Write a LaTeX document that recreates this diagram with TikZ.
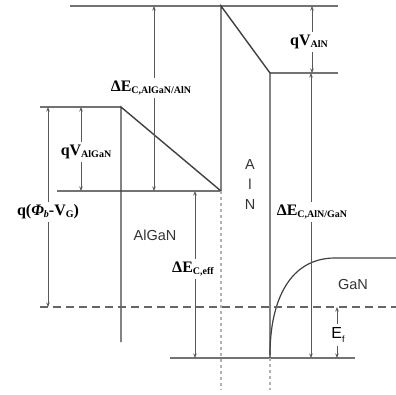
\documentclass[tikz,border=0pt]{standalone}
\usepackage{fontspec}
\setmainfont{Liberation Serif}
\setsansfont{Liberation Sans}
\usetikzlibrary{arrows.meta}

% band label: big bold symbol with small bold subscript
\newcommand{\bandlbl}[2]{{\fontsize{16}{16}\selectfont\bfseries #1}{\fontsize{10}{10}\selectfont\bfseries\raisebox{-0.4ex}{#2}}}

\tikzset{
	level/.style={draw=black!55, line width=1.3pt},
	band/.style={draw=black!75, line width=1.4pt},
	fermi/.style={draw=black!60, line width=1.3pt, dash pattern=on 8pt off 5pt},
	guide/.style={draw=black!30, line width=1.1pt, dash pattern=on 3pt off 3pt},
	arr/.style={draw=black!65, line width=0.7pt, ->},
	lbl/.style={inner sep=3pt, font=\fontsize{16}{16}\selectfont\bfseries},
	mat/.style={font=\fontsize{14.5}{15}\selectfont\sffamily, text=black!80}
}

\begin{document}
\begin{tikzpicture}[x=1pt, y=-1pt, >={Stealth[length=4.5pt,width=3.5pt]}]
			\useasboundingbox (0,0) rectangle (396,394);
			
			% levels
			\draw[level] (70,6) -- (338,6);
			\draw[level] (40,107) -- (121,107);
			\draw[level] (57,191) -- (221,191);
			\draw[level] (270,73) -- (338,73);
			\draw[level] (170,358) -- (355,358);
			
			% AlGaN barrier
			{
				\draw[band] (121,342) -- (121,107) -- (221,191);
			}
			
			% AlN spacer
			{
				\draw[band] (221,191) -- (221,6) -- (270,73) -- (270,358);
			}
			
			% GaN channel
			\draw[band, line width=1.2pt] (270,355) .. controls (270,300) and (290,258) .. (335,258) -- (396,258);
			
			% Fermi level and interface guides
			\draw[fermi] (40,307) -- (396,307);
			\draw[guide] (221,191) -- (221,390);
			\draw[guide] (270,358) -- (270,390);
			
			% end points of the arrows
			\coordinate (dEabTop) at (154,6);
			\coordinate (dEabBot) at (154,191);
			\coordinate (qVaTop) at (81,107);
			\coordinate (qVaBot) at (81,191);
			\coordinate (phiTop) at (48,107);
			\coordinate (phiBot) at (48,307);
			\coordinate (effTop) at (195,191);
			\coordinate (effBot) at (195,358);
			\coordinate (qVnTop) at (312,6);
			\coordinate (qVnBot) at (312,73);
			\coordinate (dEngTop) at (311,73);
			\coordinate (dEngBot) at (311,358);
			\coordinate (efTop) at (337,307);
			\coordinate (efBot) at (337,358);
			
			% labels
			\node[lbl] (dEab) at (151,88) {\bandlbl{ΔE}{C,AlGaN/AlN}};
			\node[lbl] (qVa) at (86,152) {\bandlbl{qV}{AlGaN}};
			\node[lbl] (phi) at (48,212) {q(\textit{Φ}{\fontsize{10}{10}\selectfont\raisebox{-0.4ex}{\textit{b}}}-V{\fontsize{10}{10}\selectfont\raisebox{-0.4ex}{G}})};
			\node[lbl] (eff) at (193,269) {\bandlbl{ΔE}{C,eff}};
			\node[lbl] (qVn) at (309,42) {\bandlbl{qV}{AlN}};
			\node[lbl] (dEng) at (312,212) {\bandlbl{ΔE}{C,AlN/GaN}};
			\node[inner sep=3pt, font=\fontsize{16}{16}\selectfont\sffamily] (ef) at (338,335) {E\raisebox{-0.5ex}{\fontsize{9}{9}\selectfont f}};
			
			% arrows
			\draw[arr] (dEab.north -| dEabTop) -- (dEabTop);
			\draw[arr] (dEab.south -| dEabBot) -- (dEabBot);
			\draw[arr] (qVa.north -| qVaTop) -- (qVaTop);
			\draw[arr] (qVa.south -| qVaBot) -- (qVaBot);
			\draw[arr] (phi) -- (phiTop);
			\draw[arr] (phi) -- (phiBot);
			\draw[arr] (eff.north -| effTop) -- (effTop);
			\draw[arr] (eff.south -| effBot) -- (effBot);
			\draw[arr] (qVn.north -| qVnTop) -- (qVnTop);
			\draw[arr] (qVn.south -| qVnBot) -- (qVnBot);
			\draw[arr] (dEng.north -| dEngTop) -- (dEngTop);
			\draw[arr] (dEng.south -| dEngBot) -- (dEngBot);
			\draw[arr] (ef.north -| efTop) -- (efTop);
			\draw[arr] (ef.south -| efBot) -- (efBot);
			
			% material names
			\node[mat] (algan) at (155,235) {AlGaN};
			\node[mat] (alnA) at (250,165) {A};
			\node[mat] (alnL) at (250,184) {l};
			\node[mat] (alnN) at (250,205) {N};
			\node[mat] (gan) at (353,285) {GaN};
		\end{tikzpicture}
\end{document}
